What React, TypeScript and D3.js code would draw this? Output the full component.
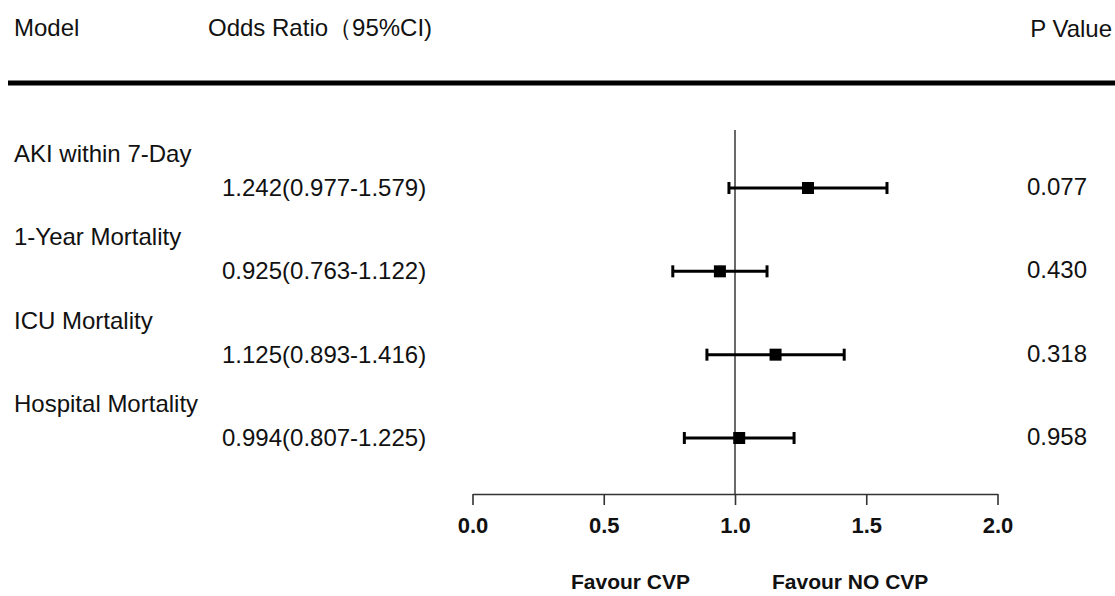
import React, { useEffect, useRef } from "react";
import * as d3 from "d3";

const models = ["AKI within 7-Day", "1-Year Mortality", "ICU Mortality", "Hospital Mortality"];
const oddsRatios = [1.242, 0.925, 1.125, 0.994];
const ciLower = [0.977, 0.763, 0.893, 0.807];
const ciUpper = [1.579, 1.122, 1.416, 1.225];
const pValues = ["0.077", "0.430", "0.318", "0.958"];
const xTicks = [0, 0.5, 1, 1.5, 2];

const width = 1115;
const height = 596;
const font = "Liberation Sans, Arial, sans-serif";

const App = () => {
  const axisRef = useRef<SVGGElement>(null);

  const x = d3.scaleLinear().domain([0, 2]).range([472.5, 997.5]);
  const y = d3.scalePoint<string>().domain(models).range([188, 438]);
  const axisY = 494;

  useEffect(() => {
    const g = d3.select(axisRef.current);
    g.selectAll("*").remove();
    g.call(
      d3
        .axisBottom(x)
        .tickValues(xTicks)
        .tickFormat(d3.format(".1f"))
        .tickSize(11)
        .tickSizeOuter(0)
        .tickPadding(12)
    );
    g.select(".domain").attr("stroke", "#333").attr("stroke-width", 1.6);
    g.selectAll(".tick line").attr("stroke", "#333").attr("stroke-width", 1.6);
    g.selectAll(".tick text")
      .attr("font-family", font)
      .attr("font-size", 22)
      .attr("font-weight", "bold")
      .attr("fill", "#111");
  }, []);

  return (
    <svg
      width={width}
      height={height}
      style={{ position: "absolute", left: 0, top: 0, background: "#fff" }}
      fontFamily={font}
    >
      {/* header */}
      <g fontSize={24} fill="#111">
        <text x={14} y={36}>Model</text>
        <text x={208} y={36}>Odds Ratio（95%CI)</text>
        <text x={1112} y={37} textAnchor="end">P Value</text>
      </g>
      <line x1={8} x2={width} y1={83} y2={83} stroke="#000" strokeWidth={5} />

      {/* reference line at OR = 1 */}
      <line x1={x(1)} x2={x(1)} y1={130} y2={axisY} stroke="#444" strokeWidth={1.6} />

      {models.map((m, i) => {
        const cy = y(m) as number;
        // the square sits at the middle of the CI in the original figure
        const mid = (ciLower[i] + ciUpper[i]) / 2;
        return (
          <g key={m}>
            <text x={14} y={cy - 26} fontSize={24} fill="#111">{m}</text>
            <text x={222} y={cy + 8} fontSize={24} fill="#111">
              {`${oddsRatios[i].toFixed(3)}(${ciLower[i].toFixed(3)}-${ciUpper[i].toFixed(3)})`}
            </text>
            <text x={1087} y={cy + 7} fontSize={24} fill="#111" textAnchor="end">{pValues[i]}</text>
            <line x1={x(ciLower[i])} x2={x(ciUpper[i])} y1={cy} y2={cy} stroke="#000" strokeWidth={3} />
            <line x1={x(ciLower[i])} x2={x(ciLower[i])} y1={cy - 6} y2={cy + 6} stroke="#000" strokeWidth={3} />
            <line x1={x(ciUpper[i])} x2={x(ciUpper[i])} y1={cy - 6} y2={cy + 6} stroke="#000" strokeWidth={3} />
            <rect x={x(mid) - 6} y={cy - 6} width={12} height={12} fill="#000" />
          </g>
        );
      })}

      <g ref={axisRef} transform={`translate(0,${axisY})`} />

      <g fontSize={21} fontWeight="bold" fill="#111">
        <text x={690} y={589} textAnchor="end">Favour CVP</text>
        <text x={772} y={589}>Favour NO CVP</text>
      </g>
    </svg>
  );
};

export default App;
